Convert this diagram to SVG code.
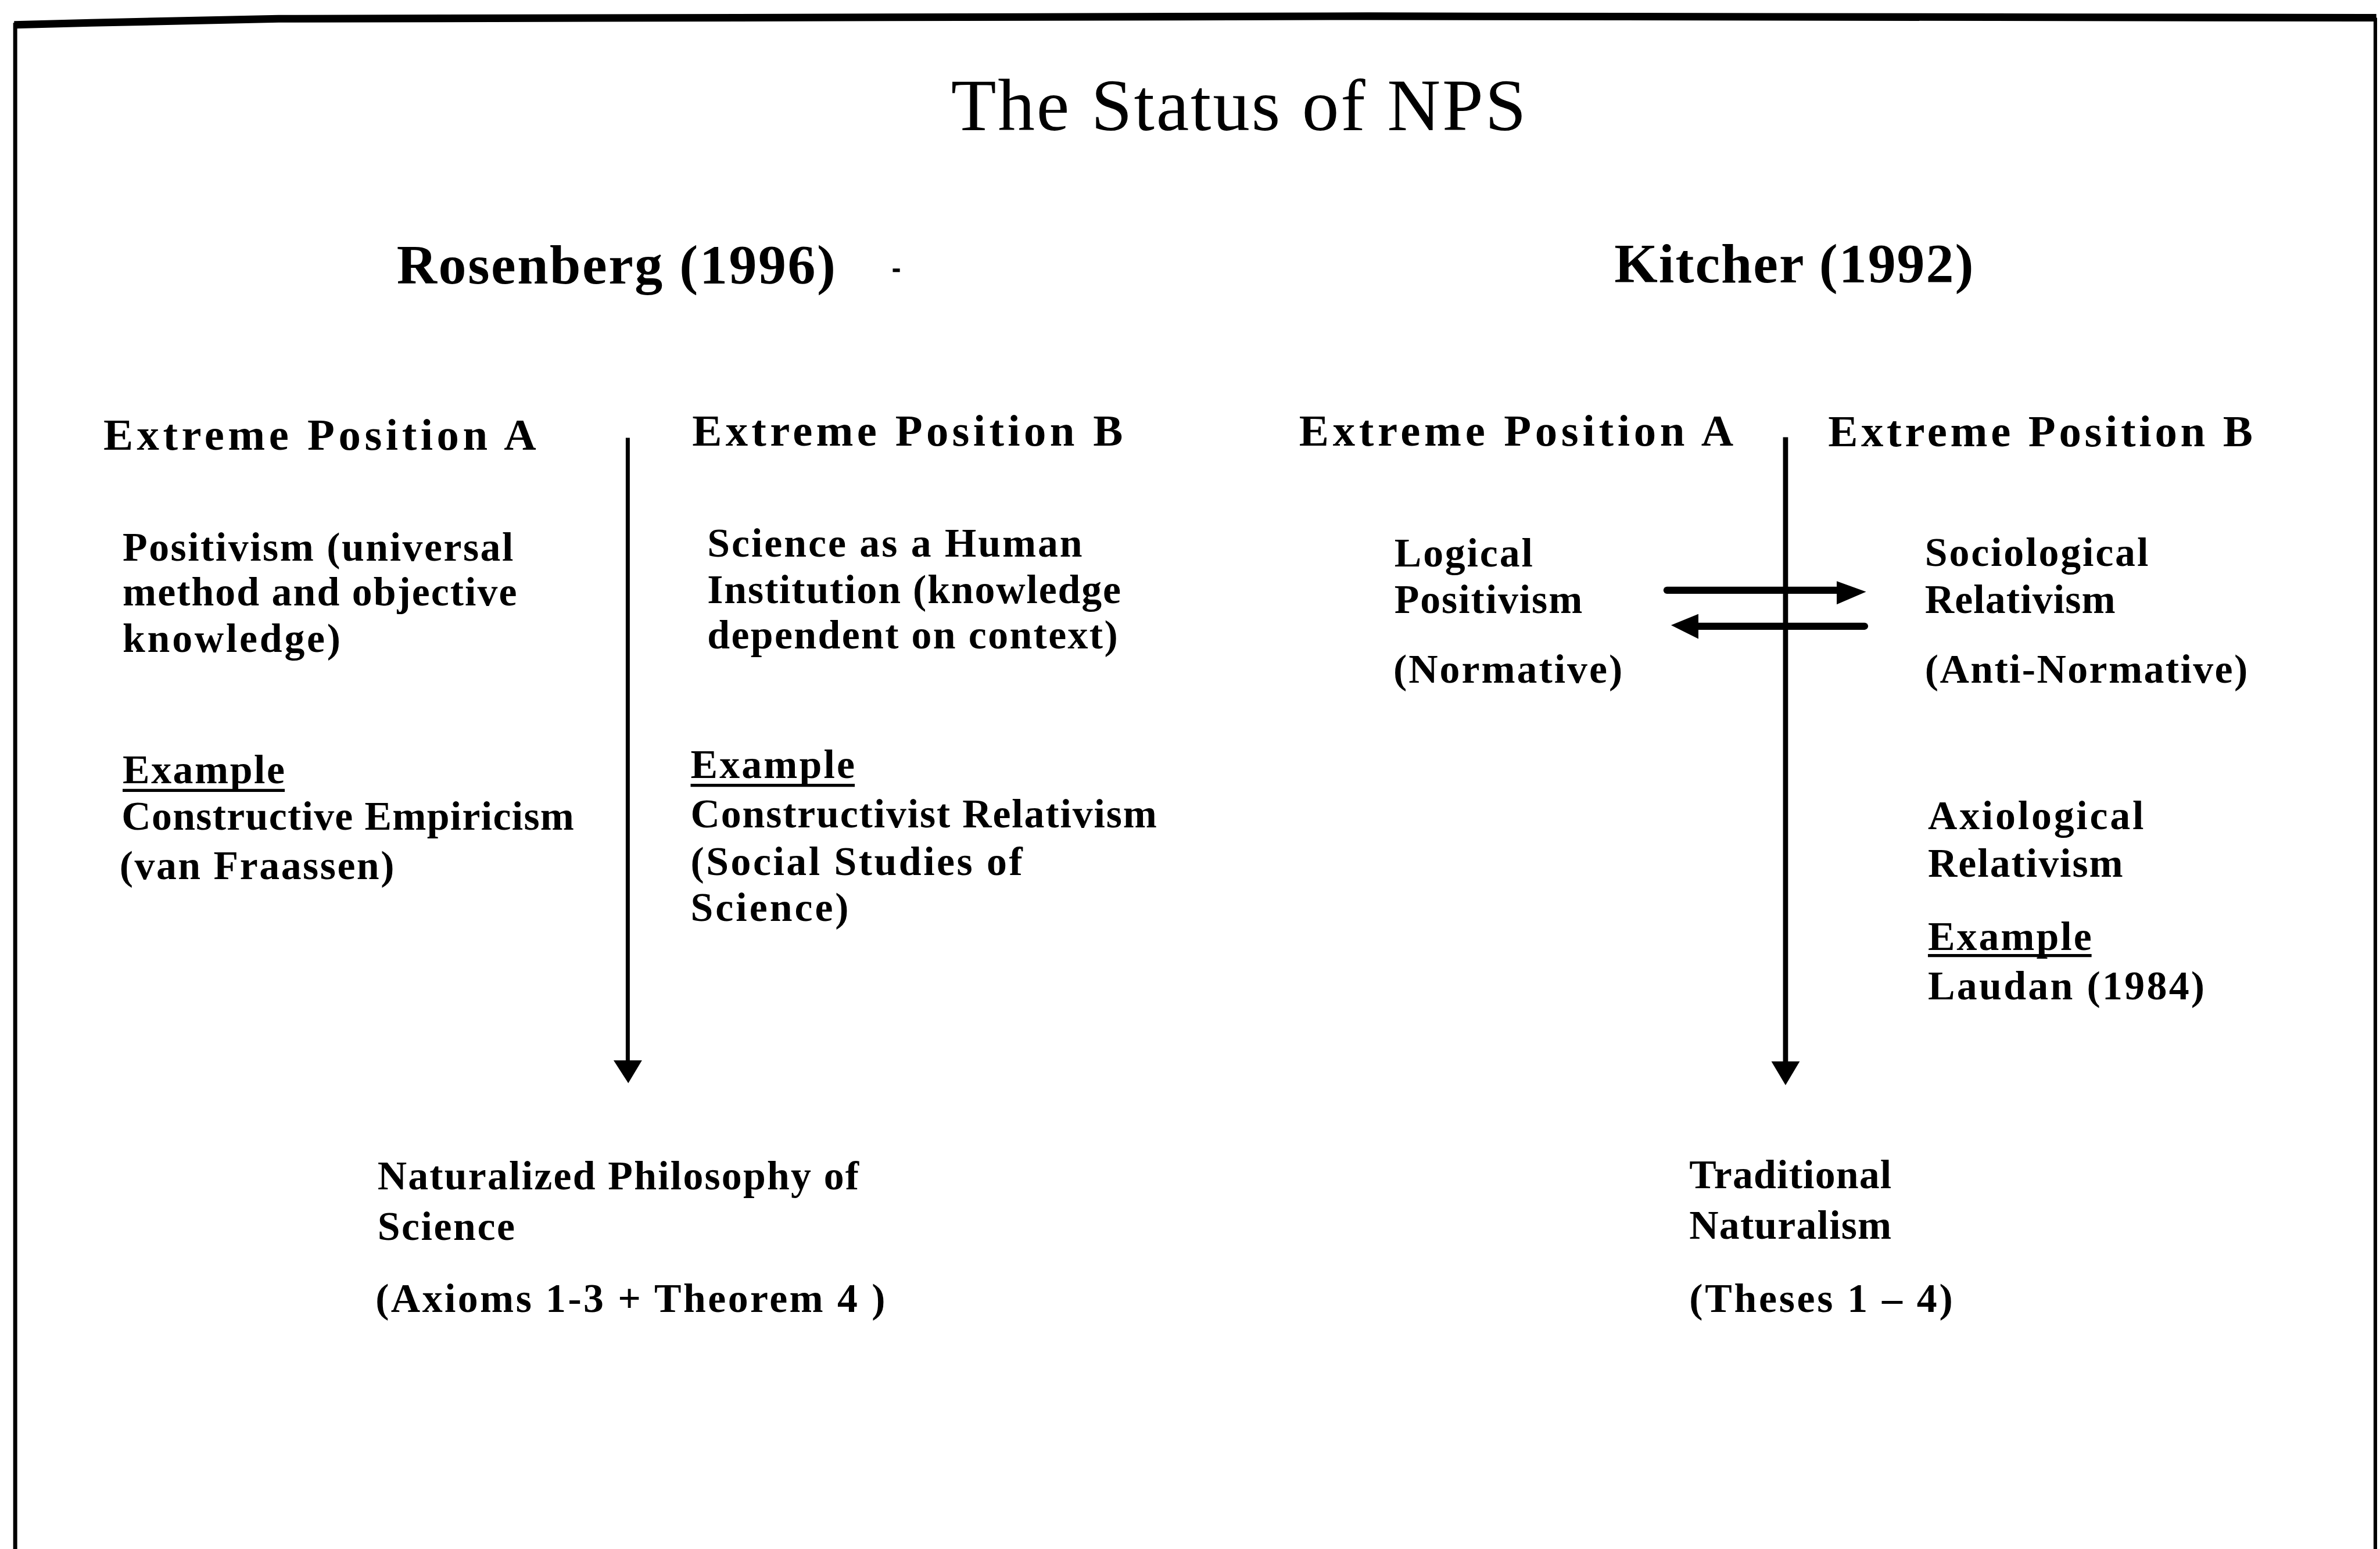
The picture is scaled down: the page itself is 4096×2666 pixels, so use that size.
<svg xmlns="http://www.w3.org/2000/svg" width="4096" height="2666" viewBox="0 0 4096 2666">
<style>
.t{font-family:"Liberation Serif","Times New Roman",serif;fill:#000}
.title{font-size:146px;font-weight:normal}
.auth{font-size:110px;font-weight:bold}
.head{font-size:88px;font-weight:bold}
.body{font-size:80px;font-weight:bold}
.frame{fill:none;stroke:#000;stroke-linejoin:round}
.conn{stroke:#000;fill:none}
.ul{stroke:#000;stroke-width:6}
</style>
<rect x="0" y="0" width="4096" height="2666" fill="#fff"/>
<g transform="scale(0.872)">
<g id="frame">
<polyline class="frame" stroke-width="15" points="28,49 180,45 550,37 2700,32 4690,35"/>
<line class="frame" stroke-width="8" x1="30" y1="45" x2="30" y2="3060"/>
<line class="frame" stroke-width="7" x1="4688" y1="35" x2="4688" y2="3060"/>
</g>
<g id="title">
<text class="t title" x="1877" y="257" textLength="1135">The Status of NPS</text>
</g>
<g id="rosenberg">
<text class="t auth" x="783" y="560" textLength="866">Rosenberg (1996)</text>
<rect x="1762" y="530" width="14" height="7" fill="#000"/>
</g>
<g id="kitcher">
<text class="t auth" x="3186" y="557" textLength="709">Kitcher (1992)</text>
</g>
<g id="rosenberg-a">
<text class="t head" x="204" y="888" textLength="854">Extreme Position A</text>
<text class="t body" x="242" y="1107" textLength="771">Positivism (universal</text>
<text class="t body" x="242" y="1195" textLength="778">method and objective</text>
<text class="t body" x="242" y="1287" textLength="430">knowledge)</text>
<text class="t body" x="242" y="1546" textLength="320">Example</text>
<line class="ul" x1="242" y1="1560" x2="562" y2="1560"/>
<text class="t body" x="240" y="1638" textLength="893">Constructive Empiricism</text>
<text class="t body" x="236" y="1735" textLength="542">(van Fraassen)</text>
</g>
<g id="rosenberg-b">
<text class="t head" x="1366" y="880" textLength="850">Extreme Position B</text>
<text class="t body" x="1396" y="1099" textLength="740">Science as a Human</text>
<text class="t body" x="1396" y="1190" textLength="816">Institution (knowledge</text>
<text class="t body" x="1396" y="1280" textLength="810">dependent on context)</text>
<text class="t body" x="1363" y="1536" textLength="324">Example</text>
<line class="ul" x1="1363" y1="1550" x2="1687" y2="1550"/>
<text class="t body" x="1363" y="1633" textLength="920">Constructivist Relativism</text>
<text class="t body" x="1363" y="1727" textLength="655">(Social Studies of</text>
<text class="t body" x="1363" y="1818" textLength="312">Science)</text>
</g>
<g id="kitcher-a">
<text class="t head" x="2564" y="880" textLength="857">Extreme Position A</text>
<text class="t body" x="2752" y="1118" textLength="273">Logical</text>
<text class="t body" x="2752" y="1210" textLength="371">Positivism</text>
<text class="t body" x="2750" y="1348" textLength="452">(Normative)</text>
</g>
<g id="kitcher-b">
<text class="t head" x="3608" y="881" textLength="838">Extreme Position B</text>
<text class="t body" x="3799" y="1117" textLength="441">Sociological</text>
<text class="t body" x="3799" y="1210" textLength="376">Relativism</text>
<text class="t body" x="3799" y="1348" textLength="637">(Anti-Normative)</text>
<text class="t body" x="3805" y="1637" textLength="426">Axiological</text>
<text class="t body" x="3805" y="1731" textLength="385">Relativism</text>
<text class="t body" x="3805" y="1875" textLength="323">Example</text>
<line class="ul" x1="3805" y1="1886" x2="4128" y2="1886"/>
<text class="t body" x="3805" y="1972" textLength="546">Laudan (1984)</text>
</g>
<g id="nps">
<text class="t body" x="745" y="2347" textLength="950">Naturalized Philosophy of</text>
<text class="t body" x="745" y="2447" textLength="271">Science</text>
<text class="t body" x="741" y="2589" textLength="1006">(Axioms 1-3 + Theorem 4 )</text>
</g>
<g id="traditional">
<text class="t body" x="3334" y="2345" textLength="399">Traditional</text>
<text class="t body" x="3334" y="2445" textLength="399">Naturalism</text>
<text class="t body" x="3334" y="2590" textLength="520">(Theses 1 – 4)</text>
</g>
<g id="connectors">
<line class="conn" stroke-width="8" x1="1239" y1="864" x2="1239" y2="2096"/>
<polygon points="1211,2093 1267,2093 1240,2138" fill="#000"/>
<line class="conn" stroke-width="10" x1="3524" y1="863" x2="3524" y2="2098"/>
<polygon points="3496,2095 3552,2095 3524,2142" fill="#000"/>
<line class="conn" stroke-width="14" stroke-linecap="round" x1="3290" y1="1165" x2="3630" y2="1165"/>
<polygon points="3625,1147 3683,1168 3625,1193" fill="#000"/>
<line class="conn" stroke-width="14" stroke-linecap="round" x1="3350" y1="1236" x2="3680" y2="1236"/>
<polygon points="3352,1212 3298,1234 3352,1261" fill="#000"/>
</g>
</g>
</svg>
